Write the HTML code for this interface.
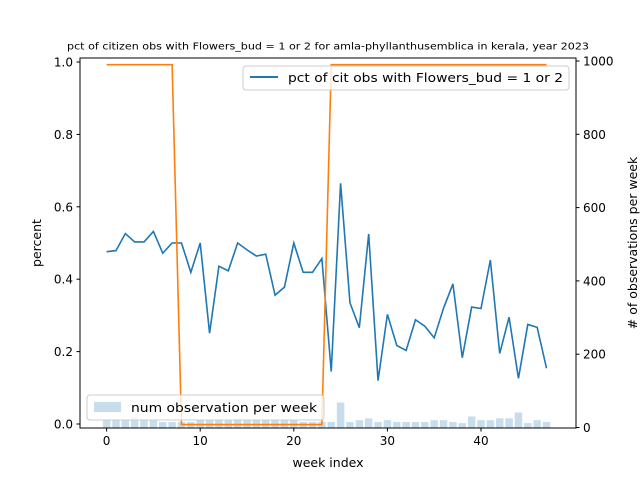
<!DOCTYPE html>
<html><head><meta charset="utf-8"><style>
body{margin:0;background:#fff}
svg{display:block;font-family:"DejaVu Sans","Liberation Sans",sans-serif}
</style></head><body>
<svg id="chart" width="640" height="480" viewBox="0 0 640 480">
<text x="328" y="49.5" font-size="9.5" text-anchor="middle" textLength="522" lengthAdjust="spacingAndGlyphs">pct of citizen obs with Flowers_bud = 1 or 2 for amla-phyllanthusemblica in kerala, year 2023</text>
<g id="bars"></g>
<g id="lines"></g>
<rect x="80" y="58" width="496" height="370" fill="none" stroke="#000" stroke-width="1"/>
<g id="axes"></g>
<g>
<rect x="243" y="66" width="326" height="24" rx="3" fill="#fff" fill-opacity="0.8" stroke="#ccc"/>
<line x1="250" y1="77" x2="278" y2="77" stroke="#1f77b4" stroke-width="2"/>
<text x="288" y="82" font-size="12.5" textLength="275" lengthAdjust="spacingAndGlyphs">pct of cit obs with Flowers_bud = 1 or 2</text>
</g>
<g>
<rect x="87" y="395" width="237" height="25" rx="3" fill="#fff" fill-opacity="0.8" stroke="#ccc"/>
<rect x="94" y="402" width="27" height="10" fill="#1f77b4" fill-opacity="0.25"/>
<text x="131" y="412" font-size="12.5" textLength="186" lengthAdjust="spacingAndGlyphs">num observation per week</text>
</g>
<text x="328" y="467" font-size="12.5" text-anchor="middle">week index</text>
<text transform="translate(41,243) rotate(-90)" font-size="12.5" text-anchor="middle">percent</text>
<text transform="translate(637,243) rotate(-90)" font-size="12.5" text-anchor="middle"># of observations per week</text>
</svg>
<script>
const pctValues=[0.476,0.479,0.526,0.503,0.503,0.532,0.472,0.5,0.5,0.419,0.5,0.251,0.436,0.423,0.5,0.481,0.464,0.469,0.356,0.378,0.5,0.419,0.419,0.457,0.145,0.665,0.335,0.266,0.525,0.12,0.303,0.217,0.203,0.288,0.27,0.238,0.32,0.387,0.183,0.323,0.319,0.453,0.195,0.295,0.126,0.275,0.267,0.154];
const orangeValues=[990,990,990,990,990,990,990,990,8,8,8,8,8,8,8,8,8,8,8,8,8,8,8,8,990,990,990,990,990,990,990,990,990,990,990,990,990,990,990,990,990,990,990,990,990,990,990,990];
const obsCounts=[20,20,20,30,20,20,15,15,15,15,20,20,20,20,25,20,20,20,20,20,20,15,15,15,15,68,15,20,25,15,20,15,15,15,15,20,20,15,12,30,20,20,25,25,41,12,20,15];
const xTicks=[0,10,20,30,40];
const yTicks=[0.0,0.2,0.4,0.6,0.8,1.0];
const y2Ticks=[0,200,400,600,800,1000];
const NS="http://www.w3.org/2000/svg";
const xs=v=>106.6+v*9.36;
const ys=v=>424-362*v;
const y2s=v=>427.5-0.3665*v;
function mk(t,a,p){const e=document.createElementNS(NS,t);for(const k in a)e.setAttribute(k,a[k]);p.appendChild(e);return e;}
const gb=document.getElementById('bars'),gl=document.getElementById('lines'),ga=document.getElementById('axes');
obsCounts.forEach((c,i)=>{const r=mk('rect',{x:xs(i)-3.75,y:y2s(c),width:7.5,height:y2s(0)-y2s(c),fill:'#1f77b4','fill-opacity':0.25},gb);

});
const p1=mk('polyline',{points:pctValues.map((v,i)=>xs(i)+','+ys(v)).join(' '),fill:'none',stroke:'#1f77b4','stroke-width':1.6},gl);


const p2=mk('polyline',{points:orangeValues.map((v,i)=>xs(i)+','+y2s(v)).join(' '),fill:'none',stroke:'#ff7f0e','stroke-width':1.6},gl);


xTicks.forEach(t=>{mk('line',{x1:xs(t),x2:xs(t),y1:428,y2:431.5,stroke:'#000'},ga);
const e=mk('text',{x:xs(t),y:445,'font-size':12,'text-anchor':'middle'},ga);e.textContent=t;

});
yTicks.forEach(t=>{mk('line',{x1:76.5,x2:80,y1:ys(t),y2:ys(t),stroke:'#000'},ga);
const e=mk('text',{x:73,y:ys(t)+4.5,'font-size':12,'text-anchor':'end'},ga);e.textContent=t.toFixed(1);

});
y2Ticks.forEach(t=>{mk('line',{x1:576,x2:579.5,y1:y2s(t),y2:y2s(t),stroke:'#000'},ga);
const e=mk('text',{x:583,y:y2s(t)+4.5,'font-size':12},ga);e.textContent=t;

});
</script>
</body></html>
